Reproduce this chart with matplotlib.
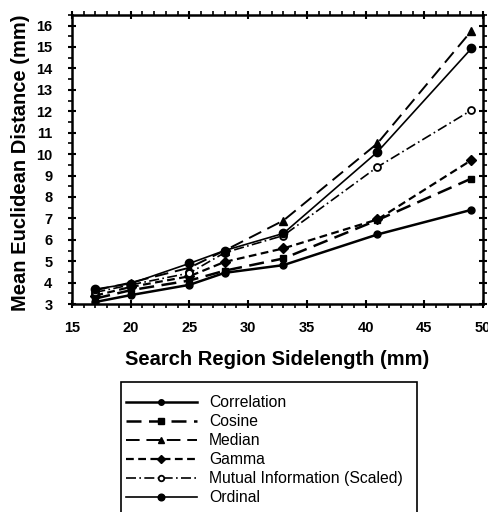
import matplotlib
matplotlib.use("Agg")
import matplotlib.pyplot as plt
from matplotlib.ticker import MultipleLocator
from matplotlib.patches import Rectangle

plt.rcParams['font.family'] = ['Liberation Sans', 'DejaVu Sans']

x = [17, 20, 25, 28, 33, 41, 49]
correlation = [3.1, 3.42, 3.9, 4.46, 4.82, 6.25, 7.4]
cosine = [3.26, 3.65, 4.1, 4.56, 5.13, 6.92, 8.86]
median = [3.65, 4.0, 4.7, 5.5, 6.9, 10.5, 15.75]
gamma = [3.4, 3.8, 4.3, 4.97, 5.6, 6.95, 9.72]
mutual = [3.55, 3.9, 4.45, 5.4, 6.2, 9.4, 12.05]
ordinal = [3.7, 3.96, 4.9, 5.5, 6.3, 10.1, 14.93]
labels = ["Correlation", "Cosine", "Median", "Gamma", "Mutual Information (Scaled)", "Ordinal"]

W, H = 489, 512
fig = plt.figure(figsize=(W / 100, H / 100), dpi=100)
ax = fig.add_axes([0.147, 0.406, 0.841, 0.565])

ax.plot(x, correlation, color='black', lw=1.8, ls='-', marker='o', ms=5, label=labels[0])
ax.plot(x, cosine, color='black', lw=1.8, ls=(0, (6, 3)), marker='s', ms=5, label=labels[1])
ax.plot(x, median, color='black', lw=1.4, ls=(0, (7, 3.5)), marker='^', ms=6, label=labels[2])
ax.plot(x, gamma, color='black', lw=1.6, ls=(0, (3.5, 2)), marker='D', ms=5, label=labels[3])
ax.plot(x, mutual, color='black', lw=1.2, ls=(0, (6, 2, 1, 2)), marker='o', ms=5,
        mfc='white', mew=1.3, label=labels[4])
ax.plot(x, ordinal, color='black', lw=1.2, ls='-', marker='o', ms=6, label=labels[5])

ax.set_xlim(15, 50)
ax.set_ylim(3, 16.5)
ax.xaxis.set_major_locator(MultipleLocator(5))
ax.xaxis.set_minor_locator(MultipleLocator(1))
ax.yaxis.set_major_locator(MultipleLocator(1))
ax.yaxis.set_minor_locator(MultipleLocator(0.5))
for s in ax.spines.values():
    s.set_linewidth(1.8)
ax.tick_params(which='major', direction='inout', length=6, width=1.5,
               top=True, right=True, labelsize=10.5)
ax.tick_params(which='minor', direction='out', length=3, width=1.2, top=True, right=True)
for lab in ax.get_xticklabels() + ax.get_yticklabels():
    lab.set_fontweight('bold')
ax.tick_params(axis='x', pad=9)
ax.tick_params(axis='y', pad=11)

ax.set_xlabel("Search Region Sidelength (mm)", fontsize=14.5, fontweight='bold')
ax.set_ylabel("Mean Euclidean Distance (mm)", fontsize=14.5, fontweight='bold')
ax.yaxis.set_label_coords(-0.124, 0.49)
ax.yaxis.label.set_va('center')
ax.xaxis.label.set_va('center')
ax.xaxis.set_label_coords(0.5, -0.19)

# legend box (frame drawn separately; its bottom runs past the figure edge)
fig.patches.append(Rectangle((121 / W, -0.05), (417 - 121) / W, (0.05 + 1 - 382 / H),
                             transform=fig.transFigure, fill=False, ec='black', lw=1.2))
leg = fig.legend(loc='upper left', bbox_to_anchor=(126 / W, 1 - 395 / H),
                 frameon=False, fontsize=11.3,
                 handlelength=4.5, handletextpad=0.8, borderpad=0, labelspacing=0.26,
                 borderaxespad=0, markerscale=0.8)

fig.savefig("out.png", dpi=100)
